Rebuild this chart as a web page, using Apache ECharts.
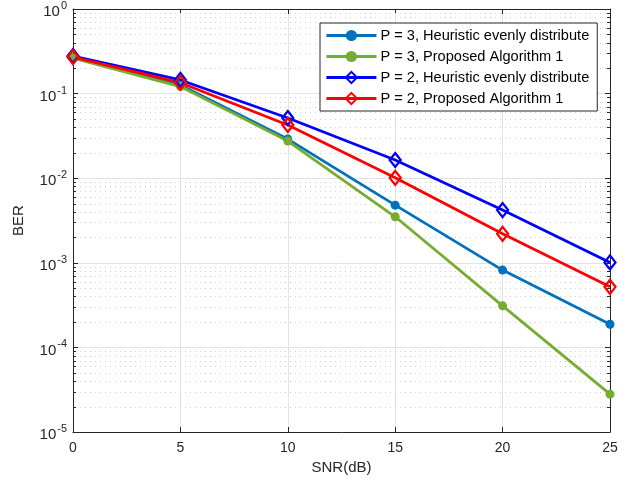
<!DOCTYPE html>
<html>
<head>
<meta charset="utf-8">
<script src="https://cdn.jsdelivr.net/npm/echarts@6/dist/echarts.min.js"></script>
<style>
  html, body { margin: 0; padding: 0; background: #fff; }
  #chart { width: 641px; height: 486px; }
</style>
</head>
<body>
<div id="chart"></div>
<script>
// SNR sweep (dB)
const snr = [0, 5, 10, 15, 20, 25];

// BER curves
const berP3Heuristic = [0.268, 0.126, 0.029, 0.0048, 0.00082, 0.000188];
const berP3Proposed  = [0.262, 0.121, 0.0275, 0.0035, 0.00031, 0.000028];
const berP2Heuristic = [0.278, 0.145, 0.0515, 0.0164, 0.0042, 0.00101];
const berP2Proposed  = [0.270, 0.1345, 0.0425, 0.0101, 0.0022, 0.00052];

const seriesNames = [
  'P = 3, Heuristic evenly distribute',
  'P = 3, Proposed Algorithm 1',
  'P = 2, Heuristic evenly distribute',
  'P = 2, Proposed Algorithm 1'
];

// Minor log gridlines: 2..9 within each decade from 1e-5 to 1
const minorValues = [];
for (let e = -5; e < 0; e++) {
  for (let m = 2; m <= 9; m++) minorValues.push(m * Math.pow(10, e));
}

const axisColor = '#262626';
const font = 'Liberation Sans, Arial, Helvetica, sans-serif';

function pairs(ys) { return snr.map((x, i) => [x, ys[i]]); }

function lineSeries(name, ys, color, diamond) {
  return {
    name: name,
    type: 'line',
    data: pairs(ys),
    z: 3,
    symbol: diamond ? 'diamond' : 'circle',
    symbolSize: diamond ? [11, 14] : 9,
    lineStyle: { color: color, width: 2.8 },
    itemStyle: diamond
      ? { color: 'rgba(255,255,255,0)', borderColor: color, borderWidth: 2.3 }
      : { color: color, borderColor: color, borderWidth: 0 },
    emphasis: { disabled: true },
    animation: false
  };
}

const chart = echarts.init(document.getElementById('chart'), null, { renderer: 'canvas' });

chart.setOption({
  backgroundColor: '#fff',
  animation: false,
  grid: { left: 73, right: 31, top: 9, bottom: 54, containLabel: false },
  legend: {
    data: seriesNames,
    orient: 'vertical',
    left: 320,
    top: 23,
    padding: [5, 8, 5, 5],
    itemWidth: 50,
    itemHeight: 14,
    itemGap: 6,
    backgroundColor: '#fff',
    borderColor: axisColor,
    borderWidth: 1,
    borderRadius: 0,
    lineStyle: { width: 2.8 },
    textStyle: { fontFamily: font, fontSize: 14.6, color: '#000', padding: [0, 0, 0, -1] },
    selectedMode: false
  },
  xAxis: [
    {
      type: 'value', min: 0, max: 25, interval: 5,
      name: 'SNR(dB)', nameLocation: 'middle', nameGap: 27,
      nameTextStyle: { fontFamily: font, fontSize: 15, color: axisColor },
      axisLine: { onZero: false, lineStyle: { color: axisColor, width: 1 } },
      axisTick: { inside: true, length: 5, lineStyle: { color: axisColor } },
      axisLabel: { margin: 9, fontFamily: font, fontSize: 14, color: axisColor },
      splitLine: { show: true, lineStyle: { color: '#e3e3e3', width: 1 } }
    },
    {
      type: 'value', min: 0, max: 25, interval: 5, position: 'top',
      axisLine: { onZero: false, lineStyle: { color: axisColor, width: 1 } },
      axisTick: { inside: true, length: 5, lineStyle: { color: axisColor } },
      axisLabel: { show: false },
      splitLine: { show: false }
    }
  ],
  yAxis: [
    {
      type: 'log', logBase: 10, min: 1e-5, max: 1,
      name: 'BER', nameLocation: 'middle', nameGap: 47, nameRotate: 90,
      nameTextStyle: { fontFamily: font, fontSize: 15, color: axisColor },
      axisLine: { onZero: false, lineStyle: { color: axisColor, width: 1 } },
      axisTick: { inside: true, length: 5, lineStyle: { color: axisColor } },
      axisLabel: {
        margin: 6,
        formatter: function (v) {
          const e = Math.round(Math.log10(v));
          return '{b|10}{s|' + e + '}';
        },
        rich: {
          b: { fontFamily: font, fontSize: 15, color: axisColor, padding: [6, 0, 0, 0] },
          s: { fontFamily: font, fontSize: 11, color: axisColor, padding: [0, 0, 6, 1] }
        }
      },
      splitLine: { show: true, lineStyle: { color: '#e3e3e3', width: 1 } }
    },
    {
      type: 'log', logBase: 10, min: 1e-5, max: 1, position: 'right',
      axisLine: { onZero: false, lineStyle: { color: axisColor, width: 1 } },
      axisTick: { inside: true, length: 5, lineStyle: { color: axisColor } },
      axisLabel: { show: false },
      splitLine: { show: false }
    }
  ],
  series: [
    {
      // dotted minor grid and minor ticks for the log BER axis
      name: 'minor',
      type: 'custom',
      z: 1,
      silent: true,
      clip: false,
      data: minorValues.map(v => [0, v]),
      renderItem: function (params, api) {
        const cs = params.coordSys;
        const p = api.coord([0, api.value(1)]);
        const y = Math.round(p[1]) + 0.5;
        const x0 = cs.x, x1 = cs.x + cs.width;
        return {
          type: 'group',
          children: [
            { type: 'line', shape: { x1: x0 + 2, y1: y, x2: x1, y2: y },
              style: { stroke: '#cfcfcf', lineWidth: 1, lineDash: [1, 4] } },
            { type: 'line', shape: { x1: x0, y1: y, x2: x0 + 3, y2: y },
              style: { stroke: axisColor, lineWidth: 1 } },
            { type: 'line', shape: { x1: x1 - 3, y1: y, x2: x1, y2: y },
              style: { stroke: axisColor, lineWidth: 1 } }
          ]
        };
      },
      animation: false
    },
    lineSeries(seriesNames[0], berP3Heuristic, '#0072BD', false),
    lineSeries(seriesNames[1], berP3Proposed, '#77AC30', false),
    lineSeries(seriesNames[2], berP2Heuristic, '#0000FF', true),
    lineSeries(seriesNames[3], berP2Proposed, '#FF0000', true)
  ]
});
</script>
</body>
</html>
